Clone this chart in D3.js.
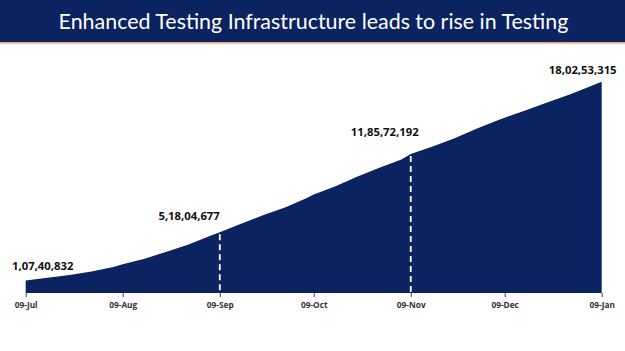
<!DOCTYPE html>
<html>
<head>
<meta charset="UTF-8">
<title>Testing</title>
<script src="https://d3js.org/d3.v7.min.js"></script>
<style>
  html, body { margin: 0; padding: 0; background: #fff; }
  svg { display: block; }
</style>
</head>
<body>
<div id="chart"></div>
<script>
// cumulative tests, roughly weekly
const dates = ['2020-07-09','2020-07-16','2020-07-23','2020-07-30','2020-08-06','2020-08-09',
  '2020-08-16','2020-08-23','2020-08-30','2020-09-06','2020-09-09','2020-09-16','2020-09-23',
  '2020-09-30','2020-10-07','2020-10-09','2020-10-16','2020-10-23','2020-10-30','2020-11-06',
  '2020-11-09','2020-11-16','2020-11-23','2020-11-30','2020-12-07','2020-12-09','2020-12-16',
  '2020-12-23','2020-12-30','2021-01-06','2021-01-09']
const tests = [10740832, 12930000, 15430000, 18300000, 22100000, 24600000,
  29300000, 35200000, 41400000, 48800000, 51804677, 59300000, 66500000,
  73100000, 81200000, 84000000, 91000000, 99300000, 106800000, 113900000,
  118572192, 125000000, 132000000, 140000000, 147600000, 149500000, 156000000,
  163000000, 169500000, 177000000, 180253315]

// labelled points
const labelDates = ['2020-07-09','2020-09-09','2020-11-09','2021-01-09']
const labelText = ['1,07,40,832','5,18,04,677','11,85,72,192','18,02,53,315']
const dashedDates = ['2020-09-09','2020-11-09']
const tickDates = ['2020-07-09','2020-08-09','2020-09-09','2020-10-09','2020-11-09','2020-12-09','2021-01-09']

const title = 'Enhanced Testing Infrastructure leads to rise in Testing'

const W = 625, H = 351
const navy = '#0b2361'
const parse = d3.timeParse('%Y-%m-%d')
const data = dates.map((d, i) => ({ date: parse(d), value: tests[i] }))
const lookup = new Map(dates.map((d, i) => [d, tests[i]]))

const svg = d3.select('#chart').append('svg').attr('width', W).attr('height', H)

// title band
svg.append('rect').attr('x', 0).attr('y', 0).attr('width', W).attr('height', 42).attr('fill', navy)
svg.append('rect').attr('x', 0).attr('y', 42).attr('width', W).attr('height', 1.6).attr('fill', '#eaa577')
const t = svg.append('text').attr('x', W / 2 + 1).attr('y', 29).attr('text-anchor', 'middle')
  .attr('fill', '#fff').attr('font-family', 'Lato, "Open Sans", sans-serif').attr('font-size', 22)
  .text(title)
const tw = t.node().getComputedTextLength()
t.attr('font-size', 22 * 510 / tw)

const x = d3.scaleTime().domain([parse('2020-07-09'), parse('2021-01-09')]).range([25.7, 601.7])
const y = d3.scaleLinear().domain([0, 200000000]).range([293, 58.5])

const area = d3.area().x(d => x(d.date)).y0(y(0)).y1(d => y(d.value))
svg.append('path').datum(data).attr('d', area).attr('fill', navy)

// axis ticks
const axis = d3.axisBottom(x).tickValues(tickDates.map(parse)).tickFormat(d3.timeFormat('%d-%b'))
  .tickSize(4).tickSizeOuter(0)
const gx = svg.append('g').attr('transform', `translate(0,${y(0)})`).call(axis)
gx.select('.domain').remove()
gx.selectAll('.tick line').attr('stroke', '#444').attr('stroke-width', 1)
gx.selectAll('.tick text').attr('y', 9).attr('fill', '#333')
  .attr('font-family', '"Open Sans", sans-serif').attr('font-weight', 'bold').attr('font-size', 8.3)

// dashed markers
svg.selectAll('line.mark').data(dashedDates).enter().append('line').attr('class', 'mark')
  .attr('x1', d => x(parse(d))).attr('x2', d => x(parse(d)))
  .attr('y1', d => y(lookup.get(d)) + 2).attr('y2', y(0))
  .attr('stroke', '#fff').attr('stroke-width', 1.8).attr('stroke-dasharray', '6,4')

// value labels
const anchors = ['start', 'end', 'middle', 'middle']
const dx = [-13.7, 0, -26, -19]
const dy = [-10.5, -12.5, -18, -8]
svg.selectAll('text.val').data(labelDates).enter().append('text').attr('class', 'val')
  .attr('x', (d, i) => x(parse(d)) + dx[i])
  .attr('y', (d, i) => y(lookup.get(d)) + dy[i])
  .attr('text-anchor', (d, i) => anchors[i])
  .attr('fill', '#111').attr('font-family', '"Open Sans", sans-serif').attr('font-weight', 'bold')
  .attr('font-size', 11.3)
  .text((d, i) => labelText[i])
</script>
</body>
</html>
